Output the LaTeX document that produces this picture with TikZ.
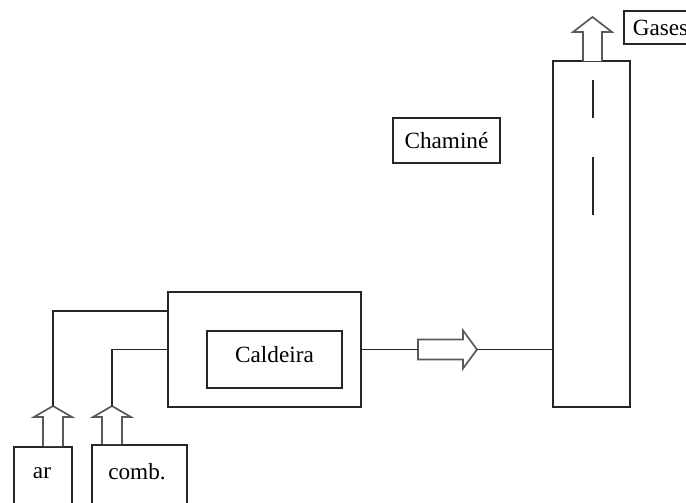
\documentclass[tikz,border=0pt]{standalone}
\usepackage{fontspec}
\setmainfont{Liberation Serif}

\newcommand{\pxu}{0.025cm}
\tikzset{
  box/.style={draw=black!85, line width=1.2pt, inner sep=0pt, font=\fontsize{16.5}{19}\selectfont},
  txt/.style={inner sep=0pt, font=\fontsize{16.5}{19}\selectfont},
  pipe/.style={draw=black!85, line width=1.2pt},
  hollow/.style={draw=black!65, line width=1.2pt, fill=white, line join=miter},
}

\begin{document}
\begin{tikzpicture}[x=\pxu, y=-\pxu]
  \useasboundingbox (0,0) rectangle (686,502);
  \clip (0,0) rectangle (686,502);

  % chaminé
  \node[box, minimum width=77*\pxu, minimum height=346*\pxu] (stack) at (591.5,234) {};
  \draw[pipe] (593,80) -- (593,118);
  \draw[pipe] (593,157) -- (593,215);
  \node[box, minimum width=107*\pxu, minimum height=45*\pxu] (stacklabel) at (446.5,140.5) {Chaminé};
  \node[box, anchor=west, minimum height=33*\pxu, inner xsep=9*\pxu] (gases) at (623,27.5) {Gases};

  % caldeira
  \node[box, minimum width=193*\pxu, minimum height=115*\pxu] (boiler) at (264.5,349.5) {};
  \node[box, minimum width=135*\pxu, minimum height=57*\pxu, text depth=7pt] (core) at (274.5,359.5) {Caldeira};

  % entradas
  \node[box, anchor=north, minimum width=58*\pxu, minimum height=80*\pxu] (air) at (43,446) {};
  \node[txt] (airtext) at (42,473) {ar};
  \node[box, anchor=north, minimum width=95*\pxu, minimum height=80*\pxu] (fuel) at (139.5,444) {};
  \node[txt] (fueltext) at (137,472) {comb.};

  % setas
  \draw[hollow] (43,446) -- (43,417) -- (34,417) -- (53,406) -- (72,417) -- (63,417) -- (63,446);
  \coordinate (airtip) at (53,406);
  \draw[hollow] (102,444) -- (102,417) -- (93,417) -- (112,406) -- (131,417) -- (122,417) -- (122,444);
  \coordinate (fueltip) at (112,406);
  \draw[hollow] (418,339.5) -- (463,339.5) -- (463,330.5) -- (477,349.5) -- (463,368.5) -- (463,359.5) -- (418,359.5) -- cycle;
  \coordinate (flowtail) at (418,349.5);
  \coordinate (flowtip) at (477,349.5);
  \draw[hollow] (583,61) -- (583,32) -- (573,32) -- (592.5,17) -- (612,32) -- (602,32) -- (602,61);

  % ligações
  \draw[pipe] (airtip) |- (boiler.west |- 0,311);
  \draw[pipe] (fueltip) |- (boiler.west);
  \draw[pipe] (boiler.east) -- (flowtail);
  \draw[pipe] (flowtip) -- (stack.west |- flowtip);
\end{tikzpicture}
\end{document}
